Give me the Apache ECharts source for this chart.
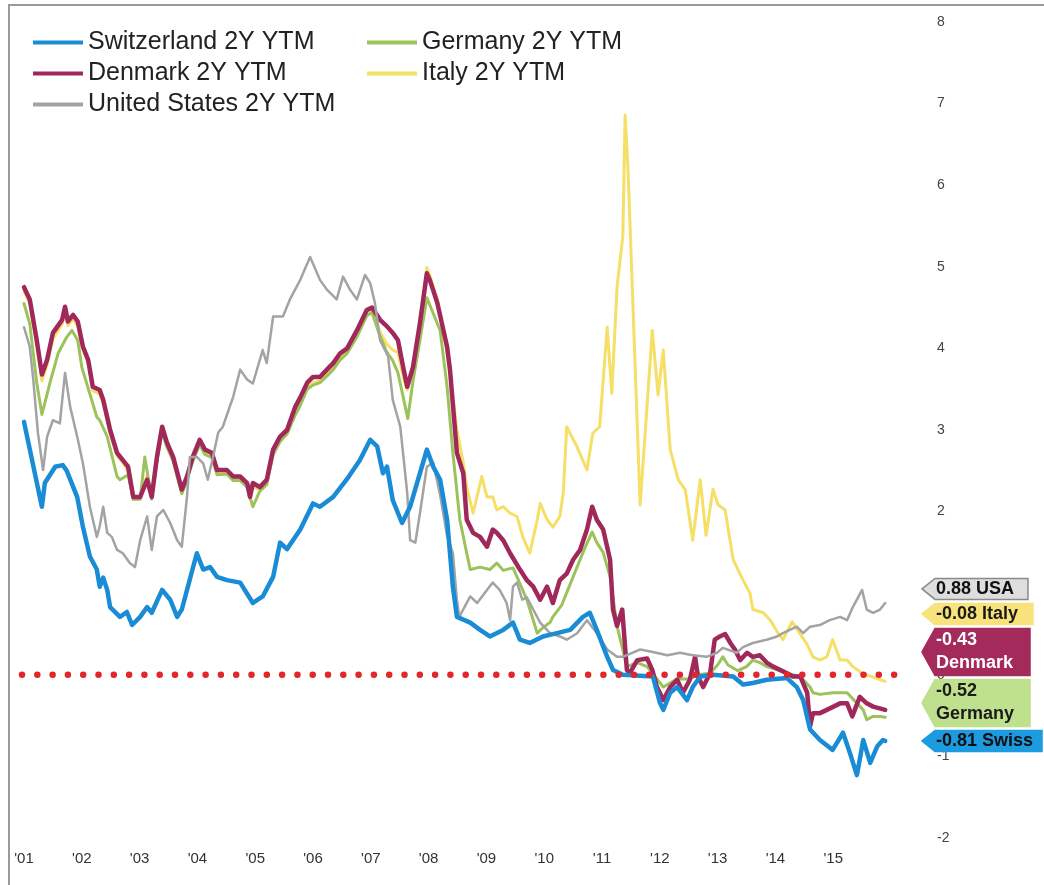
<!DOCTYPE html>
<html><head><meta charset="utf-8">
<script src="https://cdn.jsdelivr.net/npm/echarts@6/dist/echarts.min.js"></script>
<style>html,body{margin:0;padding:0;background:#fff}#c{width:1044px;height:885px}</style>
</head><body><div id="c"></div>
<script>
const yearLabels = ["'01","'02","'03","'04","'05","'06","'07","'08","'09","'10","'11","'12","'13","'14","'15"];
const yTicks = [-2,-1,0,1,2,3,4,5,6,7,8];

const swiss = [[2001.00,3.10],[2001.31,2.06],[2001.36,2.35],[2001.54,2.55],[2001.67,2.57],[2001.74,2.50],[2001.92,2.18],[2002.02,1.81],[2002.14,1.45],[2002.26,1.29],[2002.31,1.08],[2002.37,1.19],[2002.44,1.04],[2002.49,0.83],[2002.66,0.71],[2002.78,0.77],[2002.87,0.61],[2003.01,0.71],[2003.13,0.83],[2003.21,0.76],[2003.39,1.04],[2003.53,0.92],[2003.65,0.71],[2003.73,0.80],[2003.99,1.49],[2004.10,1.29],[2004.22,1.32],[2004.34,1.20],[2004.51,1.16],[2004.74,1.13],[2004.96,0.88],[2005.13,0.96],[2005.31,1.20],[2005.43,1.62],[2005.55,1.54],[2005.78,1.78],[2006.00,2.10],[2006.12,2.06],[2006.35,2.18],[2006.59,2.40],[2006.81,2.63],[2006.99,2.88],[2007.11,2.80],[2007.21,2.47],[2007.28,2.55],[2007.38,2.14],[2007.54,1.86],[2007.68,2.06],[2007.85,2.47],[2007.97,2.76],[2008.08,2.55],[2008.20,2.39],[2008.32,1.90],[2008.42,1.08],[2008.49,0.71],[2008.72,0.64],[2008.89,0.55],[2009.06,0.47],[2009.29,0.55],[2009.46,0.64],[2009.58,0.43],[2009.75,0.39],[2009.98,0.47],[2010.22,0.51],[2010.45,0.55],[2010.67,0.71],[2010.79,0.76],[2010.91,0.55],[2011.09,0.22],[2011.19,0.06],[2011.36,0.00],[2011.88,-0.02],[2012.00,-0.34],[2012.06,-0.43],[2012.18,-0.22],[2012.30,-0.15],[2012.47,-0.31],[2012.57,-0.15],[2012.70,-0.02],[2012.92,0.00],[2013.27,-0.02],[2013.44,-0.12],[2013.61,-0.10],[2013.85,-0.06],[2014.20,-0.04],[2014.37,-0.15],[2014.48,-0.31],[2014.60,-0.67],[2014.77,-0.80],[2014.99,-0.92],[2015.17,-0.71],[2015.29,-0.96],[2015.41,-1.23],[2015.52,-0.80],[2015.64,-1.08],[2015.76,-0.88],[2015.86,-0.80],[2015.90,-0.81]];

const denmark = [[2001.00,4.75],[2001.10,4.60],[2001.22,4.10],[2001.31,3.68],[2001.40,3.86],[2001.50,4.19],[2001.66,4.35],[2001.71,4.51],[2001.76,4.33],[2001.85,4.41],[2001.93,4.33],[2002.02,4.02],[2002.11,3.86],[2002.19,3.53],[2002.31,3.49],[2002.37,3.37],[2002.49,3.00],[2002.61,2.72],[2002.71,2.63],[2002.80,2.55],[2002.89,2.18],[2003.01,2.18],[2003.13,2.39],[2003.21,2.18],[2003.30,2.67],[2003.39,3.04],[2003.47,2.85],[2003.58,2.67],[2003.73,2.27],[2003.82,2.43],[2003.92,2.67],[2004.04,2.88],[2004.13,2.76],[2004.25,2.72],[2004.34,2.51],[2004.51,2.51],[2004.62,2.43],[2004.74,2.43],[2004.86,2.35],[2004.91,2.18],[2004.96,2.35],[2005.08,2.30],[2005.20,2.39],[2005.31,2.76],[2005.43,2.92],[2005.55,3.00],[2005.69,3.28],[2005.78,3.40],[2005.90,3.58],[2006.00,3.65],[2006.12,3.65],[2006.24,3.74],[2006.35,3.82],[2006.47,3.94],[2006.59,4.00],[2006.76,4.22],[2006.93,4.47],[2007.02,4.50],[2007.16,4.35],[2007.28,4.27],[2007.38,4.19],[2007.47,4.10],[2007.56,3.77],[2007.63,3.53],[2007.73,3.77],[2007.85,4.31],[2007.97,4.92],[2008.02,4.84],[2008.15,4.56],[2008.32,4.02],[2008.37,3.74],[2008.49,2.72],[2008.60,2.47],[2008.66,1.90],[2008.77,1.74],[2008.89,1.69],[2009.01,1.57],[2009.11,1.78],[2009.18,1.74],[2009.29,1.65],[2009.41,1.49],[2009.58,1.29],[2009.70,1.16],[2009.81,1.08],[2009.93,0.92],[2010.05,1.08],[2010.15,0.88],[2010.27,1.16],[2010.39,1.24],[2010.50,1.41],[2010.62,1.53],[2010.74,1.78],[2010.83,2.06],[2010.91,1.90],[2011.02,1.78],[2011.14,1.41],[2011.19,0.80],[2011.26,0.60],[2011.35,0.80],[2011.43,0.06],[2011.48,0.02],[2011.61,0.18],[2011.78,0.20],[2011.87,0.06],[2011.95,-0.15],[2012.06,-0.31],[2012.18,-0.15],[2012.30,-0.06],[2012.40,-0.22],[2012.52,-0.06],[2012.61,0.22],[2012.66,-0.02],[2012.75,-0.15],[2012.87,0.02],[2012.95,0.43],[2013.04,0.47],[2013.13,0.50],[2013.22,0.39],[2013.30,0.31],[2013.39,0.18],[2013.51,0.27],[2013.61,0.22],[2013.73,0.24],[2013.85,0.15],[2013.96,0.10],[2014.08,0.06],[2014.20,0.02],[2014.30,-0.02],[2014.43,-0.02],[2014.55,-0.22],[2014.60,-0.63],[2014.65,-0.47],[2014.77,-0.47],[2014.89,-0.43],[2015.12,-0.35],[2015.24,-0.35],[2015.33,-0.51],[2015.46,-0.27],[2015.58,-0.35],[2015.69,-0.39],[2015.90,-0.43]];

const usa = [[2001.00,4.26],[2001.10,4.02],[2001.16,3.62],[2001.24,2.97],[2001.33,2.51],[2001.40,2.92],[2001.50,3.12],[2001.62,3.08],[2001.71,3.70],[2001.80,3.28],[2001.92,2.92],[2002.02,2.59],[2002.14,2.06],[2002.26,1.69],[2002.31,1.82],[2002.37,2.06],[2002.44,1.74],[2002.52,1.69],[2002.61,1.53],[2002.71,1.49],[2002.83,1.37],[2002.92,1.32],[2003.01,1.65],[2003.13,1.94],[2003.21,1.53],[2003.30,1.94],[2003.41,2.02],[2003.53,1.86],[2003.65,1.65],[2003.73,1.57],[2003.82,2.18],[2003.87,2.67],[2003.99,2.67],[2004.10,2.59],[2004.18,2.39],[2004.27,2.67],[2004.36,2.97],[2004.44,3.04],[2004.62,3.41],[2004.74,3.74],[2004.86,3.62],[2004.96,3.57],[2005.08,3.86],[2005.13,3.98],[2005.20,3.82],[2005.31,4.39],[2005.48,4.39],[2005.60,4.60],[2005.78,4.84],[2005.95,5.12],[2006.12,4.84],[2006.24,4.72],[2006.41,4.60],[2006.52,4.88],[2006.64,4.72],[2006.76,4.60],[2006.90,4.90],[2006.99,4.80],[2007.07,4.56],[2007.16,4.10],[2007.30,3.90],[2007.38,3.37],[2007.51,3.04],[2007.63,2.23],[2007.68,1.65],[2007.77,1.62],[2007.85,1.98],[2007.97,2.55],[2008.08,2.60],[2008.20,2.20],[2008.32,1.70],[2008.42,1.49],[2008.49,0.92],[2008.53,0.71],[2008.72,0.96],[2008.84,0.88],[2009.01,1.04],[2009.11,1.13],[2009.23,1.04],[2009.35,0.88],[2009.41,0.67],[2009.46,1.08],[2009.53,1.13],[2009.62,0.92],[2009.70,0.95],[2009.81,0.80],[2009.93,0.64],[2010.10,0.51],[2010.27,0.47],[2010.39,0.43],[2010.57,0.51],[2010.74,0.67],[2010.91,0.51],[2011.09,0.31],[2011.26,0.22],[2011.36,0.22],[2011.66,0.31],[2011.88,0.28],[2012.13,0.24],[2012.35,0.27],[2012.57,0.24],[2012.81,0.22],[2012.99,0.27],[2013.09,0.33],[2013.33,0.27],[2013.44,0.34],[2013.61,0.39],[2013.85,0.43],[2014.03,0.47],[2014.13,0.51],[2014.25,0.55],[2014.37,0.59],[2014.48,0.51],[2014.60,0.59],[2014.77,0.61],[2014.94,0.67],[2015.12,0.71],[2015.24,0.67],[2015.34,0.83],[2015.50,1.04],[2015.58,0.80],[2015.69,0.76],[2015.81,0.80],[2015.90,0.88]];

const germany = [[2001.00,4.55],[2001.10,4.30],[2001.22,3.58],[2001.31,3.19],[2001.45,3.58],[2001.59,3.94],[2001.74,4.14],[2001.83,4.22],[2001.93,4.10],[2002.00,3.77],[2002.26,3.16],[2002.31,3.12],[2002.44,2.92],[2002.61,2.43],[2002.66,2.39],[2002.80,2.45],[2002.89,2.15],[2003.01,2.15],[2003.09,2.67],[2003.21,2.15],[2003.30,2.62],[2003.39,2.98],[2003.47,2.80],[2003.58,2.62],[2003.73,2.22],[2003.82,2.38],[2003.92,2.62],[2004.04,2.82],[2004.13,2.70],[2004.25,2.66],[2004.34,2.45],[2004.51,2.46],[2004.62,2.38],[2004.74,2.38],[2004.86,2.30],[2004.96,2.06],[2005.08,2.25],[2005.20,2.33],[2005.31,2.70],[2005.43,2.86],[2005.55,2.95],[2005.69,3.18],[2005.78,3.30],[2005.90,3.50],[2006.00,3.55],[2006.12,3.58],[2006.24,3.66],[2006.35,3.74],[2006.47,3.86],[2006.59,3.94],[2006.76,4.14],[2006.93,4.40],[2007.02,4.44],[2007.16,4.15],[2007.28,3.95],[2007.38,3.85],[2007.47,3.70],[2007.64,3.14],[2007.73,3.60],[2007.85,4.10],[2007.97,4.62],[2008.20,4.22],[2008.32,3.53],[2008.42,2.72],[2008.54,1.90],[2008.66,1.49],[2008.72,1.29],[2008.89,1.32],[2009.06,1.29],[2009.18,1.37],[2009.29,1.28],[2009.46,1.31],[2009.53,1.20],[2009.70,0.92],[2009.81,0.67],[2009.88,0.51],[2009.98,0.58],[2010.10,0.64],[2010.15,0.71],[2010.30,0.85],[2010.50,1.20],[2010.70,1.55],[2010.83,1.75],[2010.91,1.62],[2011.02,1.50],[2011.14,1.20],[2011.26,0.60],[2011.43,0.10],[2011.61,0.15],[2011.78,0.10],[2011.95,-0.05],[2012.06,-0.15],[2012.30,-0.05],[2012.52,-0.05],[2012.66,0.00],[2012.87,0.02],[2013.00,0.12],[2013.09,0.22],[2013.18,0.12],[2013.35,0.05],[2013.50,0.10],[2013.61,0.18],[2013.73,0.15],[2013.85,0.10],[2014.00,0.07],[2014.20,0.02],[2014.43,-0.02],[2014.60,-0.15],[2014.65,-0.22],[2014.77,-0.24],[2014.99,-0.22],[2015.24,-0.22],[2015.52,-0.43],[2015.58,-0.55],[2015.69,-0.51],[2015.81,-0.51],[2015.90,-0.52]];

const italy = [[2001.00,4.70],[2001.10,4.55],[2001.22,4.05],[2001.31,3.60],[2001.40,3.80],[2001.50,4.12],[2001.66,4.30],[2001.71,4.45],[2001.76,4.28],[2001.85,4.36],[2001.93,4.28],[2002.02,3.98],[2002.11,3.82],[2002.19,3.48],[2002.31,3.44],[2002.37,3.32],[2002.49,2.96],[2002.61,2.68],[2002.71,2.60],[2002.80,2.50],[2002.89,2.15],[2003.01,2.16],[2003.13,2.45],[2003.21,2.20],[2003.30,2.62],[2003.39,2.98],[2003.47,2.80],[2003.58,2.62],[2003.73,2.22],[2003.82,2.40],[2003.92,2.62],[2004.04,2.84],[2004.13,2.72],[2004.25,2.68],[2004.34,2.47],[2004.51,2.47],[2004.62,2.40],[2004.74,2.40],[2004.86,2.32],[2004.91,2.15],[2004.96,2.30],[2005.08,2.27],[2005.20,2.35],[2005.31,2.70],[2005.43,2.86],[2005.55,2.95],[2005.69,3.20],[2005.78,3.33],[2005.90,3.52],[2006.00,3.58],[2006.12,3.60],[2006.24,3.68],[2006.35,3.76],[2006.47,3.88],[2006.59,3.96],[2006.76,4.16],[2006.93,4.42],[2007.02,4.46],[2007.16,4.20],[2007.28,4.05],[2007.38,3.98],[2007.47,3.95],[2007.56,3.65],[2007.63,3.49],[2007.73,3.75],[2007.85,4.30],[2007.97,4.99],[2008.02,4.90],[2008.15,4.60],[2008.32,3.94],[2008.37,3.70],[2008.49,3.00],[2008.60,2.60],[2008.66,2.30],[2008.77,1.98],[2008.92,2.43],[2009.01,2.18],[2009.11,2.18],[2009.18,2.02],[2009.29,2.06],[2009.41,1.98],[2009.53,1.94],[2009.63,1.69],[2009.75,1.49],[2009.88,1.90],[2009.93,2.10],[2010.05,1.90],[2010.15,1.81],[2010.27,1.94],[2010.33,2.23],[2010.39,3.04],[2010.57,2.79],[2010.74,2.51],[2010.84,2.96],[2010.96,3.04],[2011.09,4.26],[2011.17,3.45],[2011.26,4.75],[2011.36,5.37],[2011.40,6.86],[2011.45,6.20],[2011.66,2.08],[2011.87,4.22],[2011.97,3.43],[2012.06,3.98],[2012.18,2.76],[2012.32,2.39],[2012.44,2.27],[2012.57,1.65],[2012.70,2.39],[2012.80,1.71],[2012.92,2.27],[2013.01,2.08],[2013.13,2.02],[2013.27,1.41],[2013.44,1.16],[2013.56,1.00],[2013.61,0.80],[2013.79,0.76],[2013.91,0.67],[2014.03,0.53],[2014.13,0.43],[2014.29,0.65],[2014.55,0.37],[2014.65,0.22],[2014.77,0.18],[2014.89,0.22],[2014.99,0.43],[2015.12,0.18],[2015.24,0.18],[2015.34,0.10],[2015.50,0.02],[2015.65,-0.02],[2015.81,-0.06],[2015.90,-0.08]];

const FONT = '"Liberation Sans", Arial, Helvetica, sans-serif';

const defs = [
  {name:'Italy 2Y YTM', data:italy, color:'#f5df66', width:3, tag:'Italy', fill:'#f7e27c', stroke:'#f7e27c', text:'#1a1a1a', two:false, w:111},
  {name:'Germany 2Y YTM', data:germany, color:'#9cc35b', width:3, tag:'Germany', fill:'#bfe08c', stroke:'#bfe08c', text:'#1a1a1a', two:true, w:108},
  {name:'Denmark 2Y YTM', data:denmark, color:'#a0285a', width:4.5, tag:'Denmark', fill:'#a52a5c', stroke:'#a52a5c', text:'#ffffff', two:true, w:108},
  {name:'United States 2Y YTM', data:usa, color:'#a3a3a3', width:2.5, tag:'USA', fill:'#dedede', stroke:'#8a8a8a', text:'#111111', two:false, w:106},
  {name:'Switzerland 2Y YTM', data:swiss, color:'#1a8bd5', width:4.5, tag:'Swiss', fill:'#1d9be0', stroke:'#1d9be0', text:'#111111', two:false, w:120}
];

const chart = echarts.init(document.getElementById('c'));

const legendCommon = {
  orient:'vertical', top:25, itemWidth:50, itemHeight:4, itemGap:6, icon:'rect',
  textStyle:{fontFamily:FONT, fontSize:25, color:'#222', lineHeight:25, padding:[0,0,0,0]},
  selectedMode:false
};

chart.setOption({
  animation:false,
  backgroundColor:'#ffffff',
  grid:{left:24, right:153, top:22, bottom:47, containLabel:false},
  legend:[
    Object.assign({}, legendCommon, {left:28, data:['Switzerland 2Y YTM','Denmark 2Y YTM','United States 2Y YTM']}),
    Object.assign({}, legendCommon, {left:362, data:['Germany 2Y YTM','Italy 2Y YTM']})
  ],
  xAxis:{
    type:'value', min:2001, max:2016, interval:1,
    axisLine:{show:false}, axisTick:{show:false}, splitLine:{show:false},
    axisLabel:{margin:13, fontFamily:FONT, fontSize:15, color:'#333',
      formatter:v => yearLabels[Math.round(v-2001)] || ''}
  },
  yAxis:{
    type:'value', position:'right', min:yTicks[0], max:yTicks[yTicks.length-1], interval:1,
    axisLine:{show:false}, axisTick:{show:false}, splitLine:{show:false},
    axisLabel:{margin:46, fontFamily:FONT, fontSize:14, color:'#444', align:'left'}
  },
  series: defs.map(d => ({
    name:d.name, type:'line', data:d.data, showSymbol:false, symbol:'none',
    color:d.color,
    lineStyle:{color:d.color, width:d.width, cap:'round', join:'round'},
    emphasis:{disabled:true}
  }))
});

// overlay: frame, zero dotted line, end tags
const toPx = (x,y) => chart.convertToPixel({xAxisIndex:0, yAxisIndex:0}, [x,y]);
const left = toPx(2001,0), right = toPx(2016,0);
const y0 = left[1];
const elements = [];
elements.push({type:'rect', shape:{x:9, y:5, width:1200, height:1000},
  style:{fill:'none', stroke:'#9a9a9a', lineWidth:2}, z:1, silent:true});
elements.push({type:'line', shape:{x1:left[0]-2, y1:y0, x2:right[0]+17, y2:y0},
  style:{stroke:'#e3262c', lineWidth:6.5, lineDash:[0,15.3], lineCap:'round'}, z:50, silent:true});

// tags stacked bottom-up without overlap
const tagInfo = defs.map(d => {
  const last = d.data[d.data.length-1];
  return {d, v:last[1], py:toPx(last[0], last[1])[1], h: d.two ? 47 : 21};
}).sort((a,b) => a.v - b.v);
let prevTop = Infinity;
const x0 = right[0] + 31;
tagInfo.forEach(t => {
  let bottom = Math.min(t.py + t.h/2, prevTop - 4);
  let top = bottom - t.h;
  prevTop = top;
  const cy = (top+bottom)/2;
  const x1 = x0 + t.d.w;
  elements.push({type:'polygon', shape:{points:[[x0,cy],[x0+13,top],[x1,top],[x1,bottom],[x0+13,bottom]]},
    style:{fill:t.d.fill, stroke:t.d.stroke, lineWidth:1.5}, z:100, silent:true});
  const label = t.v.toFixed(2) + (t.d.two ? '\n' : ' ') + t.d.tag;
  elements.push({type:'text', x:x0+14, y:cy, z:101, silent:true,
    style:{text:label, fill:t.d.text, font:'bold 18px ' + FONT, verticalAlign:'middle', align:'left', lineHeight:23}});
});
chart.setOption({graphic:{elements}});
</script>
</body></html>
